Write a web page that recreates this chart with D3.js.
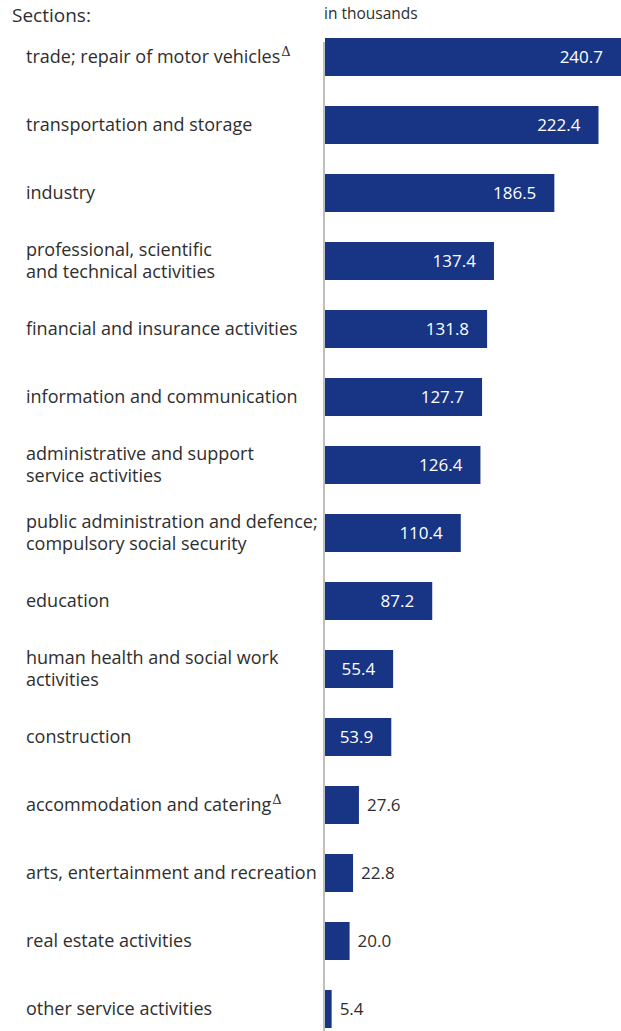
<!DOCTYPE html>
<html lang="en">
<head>
    <meta charset="UTF-8">
    <title>Sections, in thousands</title>
    <style>
        body { margin: 0; background: #fff; }
        svg { display: block; }
        .label { font: 18px "Open Sans", sans-serif; fill: #2e2e2e; }
        .value { font: 17px "Open Sans", sans-serif; }
        .head { font-family: "Open Sans", sans-serif; fill: #2e2e2e; }
    </style>
</head>
<body>
    <svg width="621" height="1031"></svg>
    <script src="https://d3js.org/d3.v7.min.js"></script>
    <script>
        const sections = [
            "trade; repair of motor vehicles",
            "transportation and storage",
            "industry",
            "professional, scientific\nand technical activities",
            "financial and insurance activities",
            "information and communication",
            "administrative and support\nservice activities",
            "public administration and defence;\ncompulsory social security",
            "education",
            "human health and social work\nactivities",
            "construction",
            "accommodation and catering",
            "arts, entertainment and recreation",
            "real estate activities",
            "other service activities"
        ];
        const values = [240.7, 222.4, 186.5, 137.4, 131.8, 127.7, 126.4, 110.4, 87.2, 55.4, 53.9, 27.6, 22.8, 20.0, 5.4];
        const marked = ["trade; repair of motor vehicles", "accommodation and catering"];

        const data = sections.map((s, i) => ({ name: s, value: values[i] }));

        const svg = d3.select("svg");
        const width = +svg.attr("width");

        const x = d3.scaleLinear()
            .domain([0, d3.max(values)])
            .range([325, width]);

        const y = d3.scaleBand()
            .domain(sections)
            .range([23, 23 + 68 * sections.length])
            .paddingInner(30 / 68)
            .paddingOuter(15 / 68);

        svg.append("text").attr("class", "head")
            .attr("x", 12).attr("y", 22)
            .style("font-size", "19px")
            .text("Sections:");
        svg.append("text").attr("class", "head")
            .attr("x", 324).attr("y", 19)
            .style("font-size", "15.5px")
            .text("in thousands");

        svg.selectAll(".bar")
            .data(data)
            .enter().append("rect")
            .attr("class", "bar")
            .attr("x", x(0))
            .attr("y", d => y(d.name))
            .attr("width", d => x(d.value) - x(0))
            .attr("height", y.bandwidth())
            .attr("fill", "#173584");

        svg.append("line")
            .attr("x1", 324).attr("x2", 324)
            .attr("y1", y(sections[0]) + 4).attr("y2", 1031)
            .attr("stroke", "#a8a8a8")
            .attr("stroke-width", 1.5);

        const inside = d => d.value > 40;

        svg.selectAll(".value")
            .data(data)
            .enter().append("text")
            .attr("class", "value")
            .attr("x", d => inside(d) ? x(d.value) - 18 : x(d.value) + 8)
            .attr("y", d => y(d.name) + y.bandwidth() / 2)
            .attr("dy", "0.36em")
            .attr("text-anchor", d => inside(d) ? "end" : "start")
            .attr("fill", d => inside(d) ? "#fff" : "#2e2e2e")
            .text(d => d3.format(".1f")(d.value));

        const label = svg.selectAll(".label")
            .data(data)
            .enter().append("text")
            .attr("class", "label")
            .attr("x", 26)
            .attr("y", d => y(d.name) + y.bandwidth() / 2);

        label.each(function (d) {
            const lines = d.name.split("\n");
            const t = d3.select(this);
            lines.forEach((line, i) => {
                t.append("tspan")
                    .attr("x", 26)
                    .attr("y", y(d.name) + y.bandwidth() / 2 + (i - (lines.length - 1) / 2) * 22)
                    .attr("dy", "0.36em")
                    .text(line);
            });
            if (marked.includes(d.name)) {
                t.append("tspan")
                    .attr("dx", 1)
                    .attr("dy", "-0.55em")
                    .style("font-size", "13px")
                    .style("font-family", "'DejaVu Serif', serif")
                    .text("\u0394");
            }
        });
    </script>
</body>
</html>
